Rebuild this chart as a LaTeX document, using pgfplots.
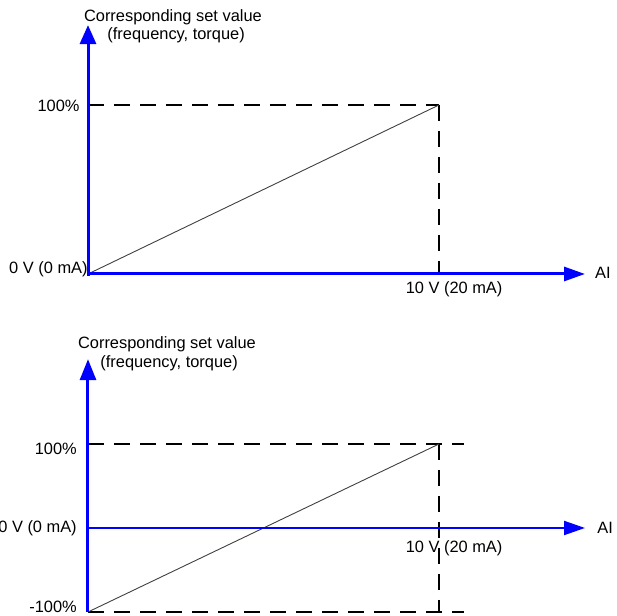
\documentclass[border=0pt]{standalone}
\usepackage{fontspec}
\setmainfont{Liberation Sans}
\usepackage{pgfplots}
\pgfplotsset{compat=1.18}
\usetikzlibrary{arrows.meta}
\definecolor{axblue}{RGB}{0,0,255}
\begin{document}
\begin{tikzpicture}[font=\fontsize{8.2}{9.8}\selectfont]
\path[use as bounding box] (0,0) rectangle (308.5pt,308pt);
% ---------------- top diagram ----------------
\begin{axis}[
  x=17.55pt, y=0.845pt,
  xmin=-2.5, xmax=15, ymin=-20, ymax=160,
  hide axis, clip=false,
  anchor=origin, at={(44pt,171pt)},
]
\addplot[black, line width=1.35pt, dash pattern=on 8pt off 5pt] coordinates {(0,100) (10,100)};
\addplot[black, line width=1.35pt, dash pattern=on 8pt off 5pt] coordinates {(10,100) (10,0)};
\addplot[black!75, line width=0.45pt] coordinates {(0,0) (10,100)};
\addplot[axblue, line width=1.5pt, -{Triangle[length=9.5pt,width=8pt]}] coordinates {(0,-0.9) (0,147.3)};
\addplot[axblue, line width=1.5pt, -{Triangle[length=10.5pt,width=7pt]}] coordinates {(-0.04,0) (14.16,0)};
\node at (axis cs:2.42,152.1) {Corresponding set value};
\node at (axis cs:2.51,141.4) {(frequency, torque)};
\node[anchor=east, inner sep=0pt] at (axis cs:-0.23,99.5) {100\%};
\node[anchor=east, inner sep=0pt] at (axis cs:0,3) {0 V (0 mA)};
\node[inner sep=0pt] at (axis cs:10.43,-8.9) {10 V (20 mA)};
\node[anchor=west, inner sep=0pt] at (axis cs:14.44,0.6) {AI};
\end{axis}
% ---------------- bottom diagram ----------------
\begin{axis}[
  x=17.55pt, y=0.42pt,
  xmin=-2.5, xmax=15, ymin=-105, ymax=215,
  hide axis, clip=false,
  anchor=origin, at={(44pt,44pt)},
]
\addplot[black, line width=1.35pt, dash pattern=on 8pt off 5pt] coordinates {(0,100) (10.71,100)};
\addplot[black, line width=1.35pt, dash pattern=on 8pt off 5pt] coordinates {(0,-100) (10.71,-100)};
\addplot[black, line width=1.35pt, dash pattern=on 8pt off 5pt] coordinates {(10,100) (10,-100)};
\addplot[black!75, line width=0.45pt] coordinates {(0,-100) (10,100)};
\addplot[axblue, line width=1.5pt, -{Triangle[length=10.5pt,width=8pt]}] coordinates {(0,-100) (0,201)};
\addplot[axblue, line width=1pt, -{Triangle[length=10.5pt,width=7pt]}] coordinates {(0,0) (14.16,0)};
\node at (axis cs:2.25,219) {Corresponding set value};
\node at (axis cs:2.31,196.4) {(frequency, torque)};
\node[anchor=east, inner sep=0pt] at (axis cs:-0.31,94) {100\%};
\node[anchor=east, inner sep=0pt] at (axis cs:-0.31,0) {0 V (0 mA)};
\node[anchor=east, inner sep=0pt] at (axis cs:-0.31,-94) {-100\%};
\node[inner sep=0pt] at (axis cs:10.43,-23.8) {10 V (20 mA)};
\node[anchor=west, inner sep=0pt] at (axis cs:14.5,0) {AI};
\end{axis}
\end{tikzpicture}
\end{document}
